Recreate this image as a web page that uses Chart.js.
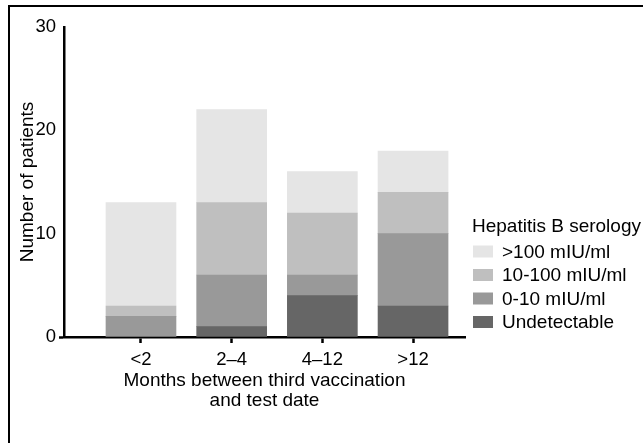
<!DOCTYPE html>
<html>
<head>
<meta charset="utf-8">
<script src="https://cdn.jsdelivr.net/npm/chart.js@4.4.1/dist/chart.umd.min.js"></script>
<style>
  html, body { margin: 0; padding: 0; background: #fff; overflow: hidden; }
  #frame { position: absolute; left: 8px; top: 5px; width: 700px; height: 500px; border: 2px solid #000; }
  #chart { position: absolute; left: 0; top: 0; }
</style>
</head>
<body>
<div id="frame"></div>
<canvas id="chart" width="643" height="443"></canvas>
<script>
// categories along x, stacked from the bottom up
const categories = ['<2', '2–4', '4–12', '>12'];
const undetectable = [0, 1, 4, 3];
const low = [2, 5, 2, 7];      // 0-10 mIU/ml
const mid = [1, 7, 6, 4];      // 10-100 mIU/ml
const high = [10, 9, 4, 4];    // >100 mIU/ml
const seriesLabels = ['Undetectable', '0-10 mIU/ml', '10-100 mIU/ml', '>100 mIU/ml'];
const seriesColors = ['#666666', '#999999', '#bfbfbf', '#e5e5e5'];
const yTicks = [0, 10, 20, 30];
const legendTitle = 'Hepatitis B serology';

const FONT = '"Liberation Sans", Arial, Helvetica, sans-serif';
Chart.defaults.font.family = FONT;
Chart.defaults.font.size = 19;
Chart.defaults.color = '#000';

// bar positions on the linear x scale: 1, 2, 3, 4
const positions = categories.map((c, i) => i + 1);
const toPoints = (vals) => vals.map((v, i) => ({ x: positions[i], y: v }));

const datasets = [undetectable, low, mid, high].map((vals, i) => ({
  label: seriesLabels[i],
  data: toPoints(vals),
  backgroundColor: seriesColors[i],
  borderWidth: 0,
  barThickness: 70
}));

// legend drawn by hand, top entry is the last dataset
const serologyLegend = {
  id: 'serologyLegend',
  afterDraw(chart) {
    const ctx = chart.ctx;
    ctx.save();
    ctx.font = '19px ' + FONT;
    ctx.fillStyle = '#000';
    ctx.textBaseline = 'alphabetic';
    ctx.fillText(legendTitle, 472, 232);
    const items = chart.data.datasets.slice().reverse();
    items.forEach((d, i) => {
      const cy = 251.5 + i * 23.5;
      ctx.fillStyle = d.backgroundColor;
      ctx.fillRect(473, cy - 6, 20, 12);
      ctx.fillStyle = '#000';
      ctx.textBaseline = 'middle';
      ctx.fillText(d.label, 502, cy + 1);
    });
    ctx.restore();
  }
};

new Chart(document.getElementById('chart'), {
  type: 'bar',
  data: { datasets: datasets },
  options: {
    responsive: false,
    animation: false,
    layout: { padding: { left: 0, top: 27, right: 178, bottom: 0 } },
    plugins: {
      legend: { display: false },
      tooltip: { enabled: false }
    },
    scales: {
      x: {
        type: 'linear',
        stacked: true,
        offset: false,
        min: 0.151,
        max: 4.573,
        afterBuildTicks: (s) => { s.ticks = positions.map(v => ({ value: v })); },
        afterFit: (s) => { s.height = 106; },
        ticks: {
          autoSkip: false,
          maxRotation: 0,
          padding: 6,
          font: { size: 18.5 },
          callback: (v) => categories[v - 1]
        },
        grid: { offset: false, drawOnChartArea: false, drawTicks: true, tickLength: 6, tickWidth: 2.5, tickColor: '#000' },
        border: { display: true, color: '#000', width: 2.5 },
        title: {
          display: true,
          text: ['Months between third vaccination', 'and test date'],
          font: { size: 19, lineHeight: 1.05 },
          padding: { top: 0, bottom: 32 }
        }
      },
      y: {
        stacked: true,
        min: 0,
        max: 30,
        afterBuildTicks: (s) => { s.ticks = yTicks.map(v => ({ value: v })); },
        afterFit: (s) => { s.width = 64; },
        ticks: { padding: 3, font: { size: 18.5 } },
        grid: {
          drawOnChartArea: false,
          drawTicks: true,
          tickLength: 5,
          tickWidth: 2.5,
          tickColor: (c) => (c.tick && c.tick.value === 0 ? '#000' : 'rgba(0,0,0,0)')
        },
        border: { display: true, color: '#000', width: 2.5 },
        title: {
          display: true,
          text: 'Number of patients',
          font: { size: 19 },
          padding: { top: 16, bottom: 0 }
        }
      }
    }
  },
  plugins: [serologyLegend]
});
</script>
</body>
</html>
